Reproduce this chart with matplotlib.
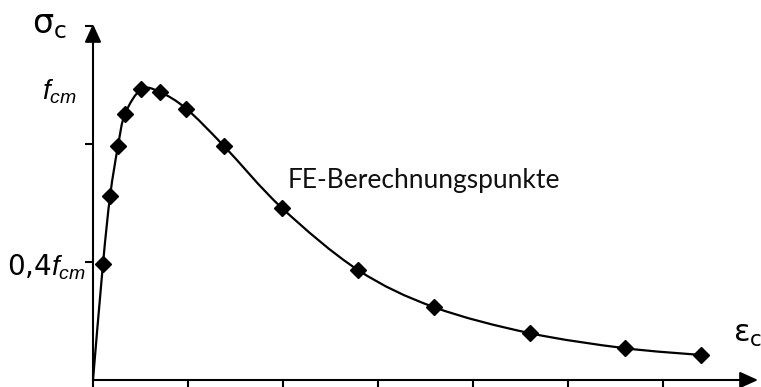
import numpy as np
import matplotlib
matplotlib.use("Agg")
import matplotlib.pyplot as plt
from matplotlib.path import Path
from matplotlib.patches import PathPatch

# FE calculation points (strain in tick units, stress relative to f_cm)
eps = [0.0, 0.105, 0.18, 0.263, 0.337, 0.51, 0.705, 0.984,
       1.379, 1.989, 2.789, 3.589, 4.595, 5.595, 6.395]
sig = [0.0, 0.393, 0.624, 0.793, 0.902, 0.986, 0.976, 0.919,
       0.793, 0.583, 0.373, 0.247, 0.159, 0.108, 0.085]

x_ticks = [0, 1, 2, 3, 4, 5, 6]
y_ticks = [0.4, 0.8, 1.2]

plt.rcParams['mathtext.fontset'] = 'custom'
plt.rcParams['mathtext.rm'] = 'Liberation Sans'
plt.rcParams['mathtext.it'] = 'Liberation Sans:italic'

W, H = 761, 387
fig = plt.figure(figsize=(W / 100, H / 100), dpi=100)
ax = fig.add_axes([93 / W, 7 / H, (758 - 93) / W, (380 - 24) / H])
ax.set_xlim(0, 665 / 95)
ax.set_ylim(0, 356 / 295)
for s in ax.spines.values():
    s.set_visible(False)

# axes with arrow heads
arrow = dict(arrowstyle="-|>,head_length=0.55,head_width=0.25", lw=1.5,
             color="k", mutation_scale=20, shrinkA=0, shrinkB=0)
ax.annotate("", xy=(1, 0), xytext=(0, 0), xycoords="axes fraction",
            arrowprops=arrow, annotation_clip=False)
ax.annotate("", xy=(0, 1), xytext=(0, 0), xycoords="axes fraction",
            arrowprops=arrow, annotation_clip=False)

ax.set_xticks(x_ticks)
ax.set_yticks(y_ticks)
ax.set_xticklabels([])
ax.set_yticklabels([])
ax.tick_params(direction="out", length=5.5, width=1.5, color="k")

# smooth curve through the points (Catmull-Rom as Bezier)
P = np.column_stack([eps, sig])
verts = [P[0]]
codes = [Path.MOVETO]
n = len(P)
for i in range(n - 1):
    p0 = P[max(i - 1, 0)]
    p1 = P[i]
    p2 = P[i + 1]
    p3 = P[min(i + 2, n - 1)]
    verts += [p1 + (p2 - p0) / 6, p2 - (p3 - p1) / 6, p2]
    codes += [Path.CURVE4] * 3
ax.add_patch(PathPatch(Path(verts, codes), fill=False, lw=1.6, color="k",
                       clip_on=False))
ax.plot(eps[1:], sig[1:], ls="none", marker="D", ms=8.5, color="k",
        clip_on=False)

fig.text(32 / W, 1 - 33 / H, r"$\mathregular{σ_c}$", fontsize=24,
         va="baseline", ha="left")
fig.text(733 / W, 1 - 342 / H, r"$\mathregular{ε_c}$", fontsize=22,
         va="baseline", ha="left")
fig.text(77 / W, 1 - 100 / H, r"$\mathit{f_{cm}}$", fontsize=20,
         va="baseline", ha="right")
fig.text(86 / W, 1 - 275 / H, r"$\mathregular{0{,}4}\mathit{f_{cm}}$",
         fontsize=20, va="baseline", ha="right")
fig.text(288 / W, 1 - 188 / H, "FE-Berechnungspunkte", fontsize=19,
         family="Lato", color="#111111", va="baseline", ha="left")

fig.savefig("out.png", dpi=100)
